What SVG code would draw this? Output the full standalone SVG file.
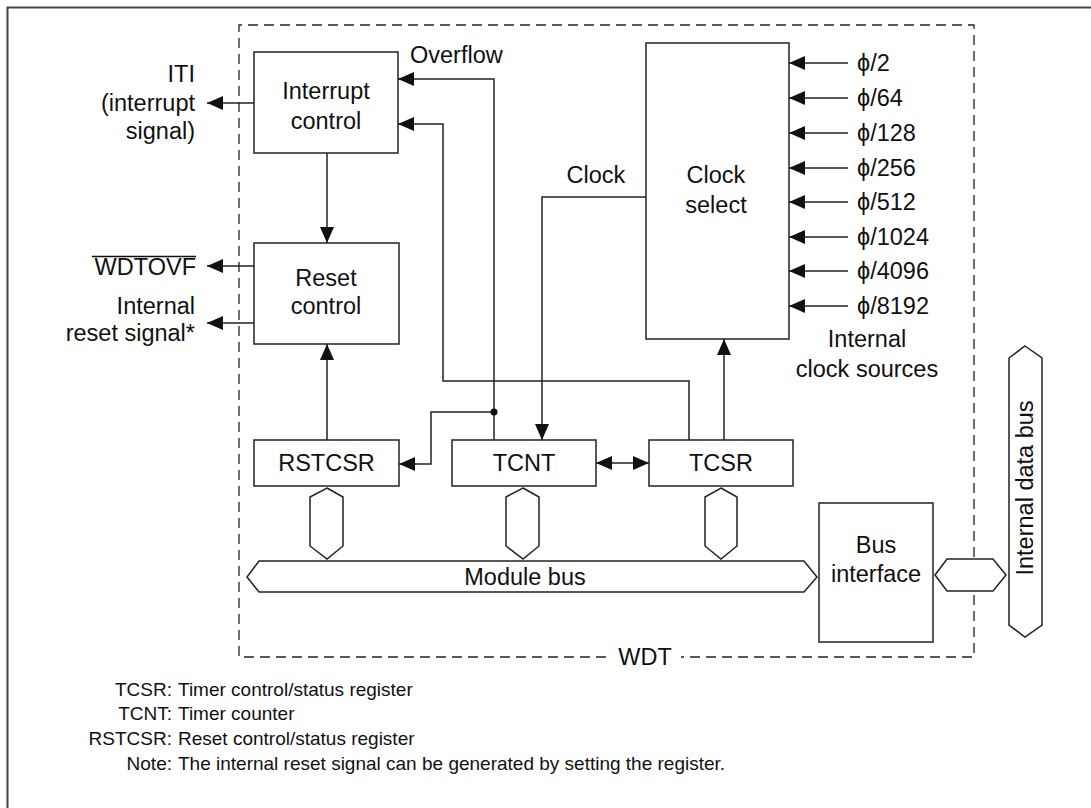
<svg xmlns="http://www.w3.org/2000/svg" width="1091" height="808" viewBox="0 0 1091 808">
<defs>
<style>
.box{fill:#fff;stroke:#222;stroke-width:1.5}
.ln{fill:none;stroke:#222;stroke-width:1.5}
.dash{fill:none;stroke:#222;stroke-width:1.3;stroke-dasharray:10,6}
.t{font-family:"Liberation Sans",Arial,sans-serif;font-size:23.5px;fill:#111}
.m{text-anchor:middle}
.e{text-anchor:end}
.f{font-family:"Liberation Sans",Arial,sans-serif;font-size:19px;fill:#111}
</style>
<marker id="ah" markerUnits="userSpaceOnUse" markerWidth="16" markerHeight="14" refX="16" refY="7" orient="auto">
<path d="M0,0 L16,7 L0,14 z" fill="#111"/>
</marker>
<marker id="as" markerUnits="userSpaceOnUse" markerWidth="16" markerHeight="14" refX="0" refY="7" orient="auto">
<path d="M16,0 L0,7 L16,14 z" fill="#111"/>
</marker>
</defs>
<rect x="0" y="0" width="1091" height="808" fill="#fff"/>
<rect x="7.5" y="7.5" width="1100" height="820" fill="none" stroke="#444" stroke-width="2"/>

<g id="wdt-frame">
<path class="dash" d="M606,657 L239,657 L239,25 L974,25 L974,657 L681,657"/>
<text class="t m" x="645" y="665">WDT</text>
</g>

<g id="connectors">
<path class="ln" d="M254,103 H207" marker-end="url(#ah)"/>
<path class="ln" d="M254,266 H207" marker-end="url(#ah)"/>
<path class="ln" d="M254,323 H207" marker-end="url(#ah)"/>
<path class="ln" d="M327,153 V243" marker-end="url(#ah)"/>
<path class="ln" d="M494,440 V79 H398" marker-end="url(#ah)"/>
<path class="ln" d="M494,412 H431 V464 H399" marker-end="url(#ah)"/>
<circle cx="494" cy="412" r="3.5" fill="#111"/>
<path class="ln" d="M646,197 H542 V440" marker-end="url(#ah)"/>
<path class="ln" d="M689,440 V381 H443 V124 H398" marker-end="url(#ah)"/>
<path class="ln" d="M724,440 V339" marker-end="url(#ah)"/>
<path class="ln" d="M327,440 V344" marker-end="url(#ah)"/>
<path class="ln" d="M596,463 H649" marker-start="url(#as)" marker-end="url(#ah)"/>
<path class="ln" d="M848,63 H789" marker-end="url(#ah)"/>
<path class="ln" d="M848,98 H789" marker-end="url(#ah)"/>
<path class="ln" d="M848,133 H789" marker-end="url(#ah)"/>
<path class="ln" d="M848,168 H789" marker-end="url(#ah)"/>
<path class="ln" d="M848,202 H789" marker-end="url(#ah)"/>
<path class="ln" d="M848,237 H789" marker-end="url(#ah)"/>
<path class="ln" d="M848,271 H789" marker-end="url(#ah)"/>
<path class="ln" d="M848,306 H789" marker-end="url(#ah)"/>
</g>

<g id="signals">
<text class="t e" x="195" y="82">ITI</text>
<text class="t e" x="195" y="111">(interrupt</text>
<text class="t e" x="195" y="139">signal)</text>
<text class="t e" x="196" y="275">WDTOVF</text>
<line x1="92" y1="256.5" x2="196" y2="256.5" stroke="#111" stroke-width="1.5"/>
<text class="t e" x="195" y="314">Internal</text>
<text class="t e" x="195" y="341">reset signal*</text>
<text class="t" x="410" y="63">Overflow</text>
<text class="t m" x="596" y="183">Clock</text>
</g>

<g id="interrupt-control">
<rect class="box" x="254" y="52" width="144" height="101"/>
<text class="t m" x="326" y="99">Interrupt</text>
<text class="t m" x="326" y="129">control</text>
</g>

<g id="reset-control">
<rect class="box" x="254" y="243" width="145" height="101"/>
<text class="t m" x="326" y="286">Reset</text>
<text class="t m" x="326" y="314">control</text>
</g>

<g id="clock-select">
<rect class="box" x="646" y="43" width="143" height="296"/>
<text class="t m" x="716" y="183">Clock</text>
<text class="t m" x="716" y="213">select</text>
</g>

<g id="clock-sources">
<text class="t" x="857" y="71">ϕ/2</text>
<text class="t" x="857" y="106">ϕ/64</text>
<text class="t" x="857" y="141">ϕ/128</text>
<text class="t" x="857" y="176">ϕ/256</text>
<text class="t" x="857" y="210">ϕ/512</text>
<text class="t" x="857" y="245">ϕ/1024</text>
<text class="t" x="857" y="279">ϕ/4096</text>
<text class="t" x="857" y="314">ϕ/8192</text>
<text class="t m" x="867" y="347">Internal</text>
<text class="t m" x="867" y="377">clock sources</text>
</g>

<g id="rstcsr">
<rect class="box" x="254" y="440" width="145" height="46"/>
<text class="t m" x="326.5" y="471">RSTCSR</text>
<polygon class="box" points="327,488 343,497 343,546 327,559 310,546 310,497"/>
</g>

<g id="tcnt">
<rect class="box" x="452" y="440" width="144" height="46"/>
<text class="t m" x="524" y="471">TCNT</text>
<polygon class="box" points="523,488 539,497 539,546 523,559 506,546 506,497"/>
</g>

<g id="tcsr">
<rect class="box" x="649" y="440" width="144" height="46"/>
<text class="t m" x="721" y="471">TCSR</text>
<polygon class="box" points="721,488 737,497 737,546 721,559 705,546 705,497"/>
</g>

<g id="module-bus">
<polygon class="box" points="247,577 259,561 804,561 817,577 804,592 259,592"/>
<text class="t m" x="525" y="585">Module bus</text>
</g>

<g id="bus-interface">
<rect class="box" x="819" y="503" width="114" height="139"/>
<text class="t m" x="876" y="553">Bus</text>
<text class="t m" x="876" y="582">interface</text>
<polygon class="box" points="935,575 947,559 993,559 1006,575 993,591 947,591"/>
</g>

<g id="internal-data-bus">
<polygon class="box" points="1025,346 1042,358 1042,625 1025,637 1009,625 1009,358"/>
<text class="t m" transform="translate(1033,488) rotate(-90)" x="0" y="0">Internal data bus</text>
</g>

<g id="legend">
<text class="f e" x="172" y="696">TCSR:</text>
<text class="f" x="178" y="696">Timer control/status register</text>
<text class="f e" x="172" y="720">TCNT:</text>
<text class="f" x="178" y="720">Timer counter</text>
<text class="f e" x="172" y="745">RSTCSR:</text>
<text class="f" x="178" y="745">Reset control/status register</text>
<text class="f e" x="172" y="770">Note:</text>
<text class="f" x="178" y="770">The internal reset signal can be generated by setting the register.</text>
</g>
</svg>
